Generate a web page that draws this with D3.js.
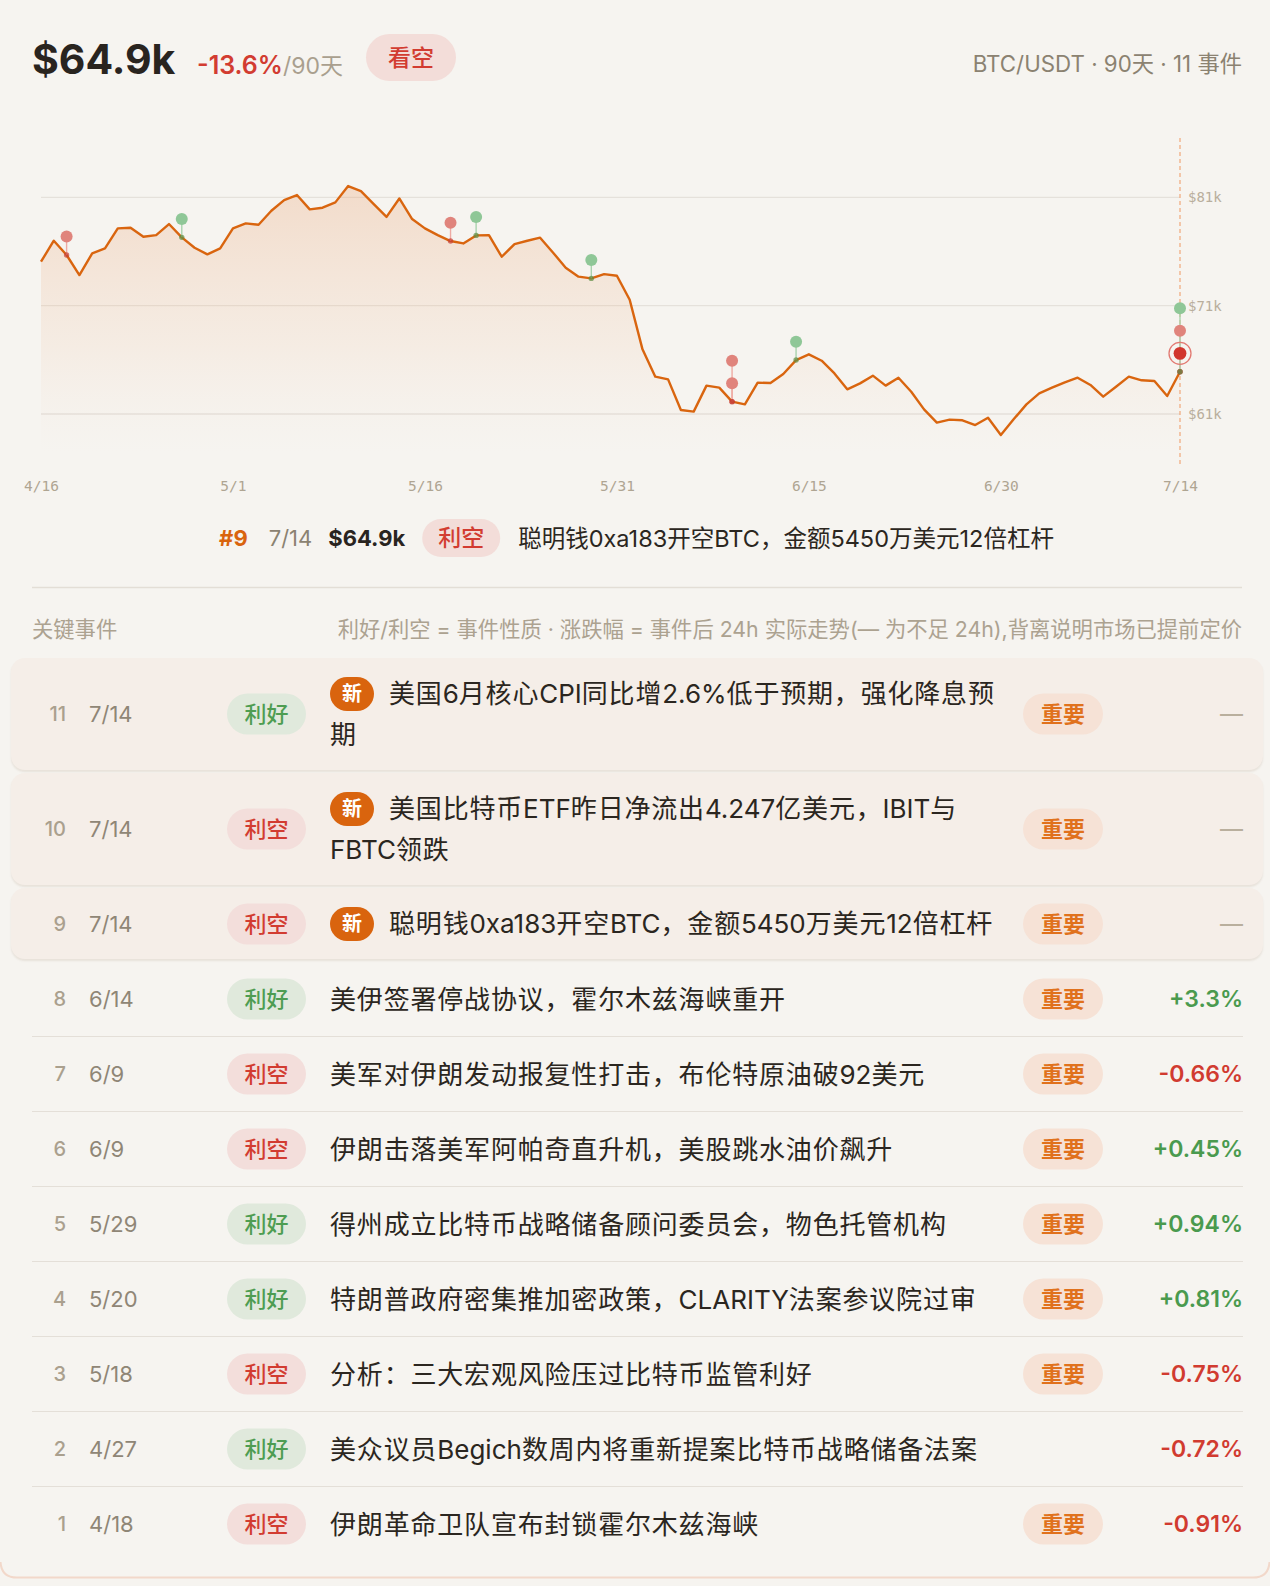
<!DOCTYPE html>
<html><head><meta charset="utf-8">
<script src="https://cdn.jsdelivr.net/npm/d3@7"></script>
<style>
html,body{margin:0;padding:0;background:#f6f4f0;}
body{width:1270px;height:1586px;position:relative;overflow:hidden;font-family:Inter,"Noto Sans CJK SC",sans-serif;}
#top{position:absolute;left:0;top:0;}
#table{position:absolute;left:0;top:658px;width:1270px;}
.row{position:relative;}
.card{margin:0 7px 3px 11px;background:#f5eee8;border-radius:14px;padding:15px 0;box-shadow:0 2px 2px rgba(140,110,80,0.13);}
.plain{margin:0 27px 0 32px;padding:17px 0 16px;border-bottom:1px solid #e4dfd8;}
.plain.first{margin-top:3px;}
.plain.last{border-bottom:none;}
.cell{position:absolute;top:50%;transform:translateY(-50%);white-space:nowrap;}
.idx{font-size:20px;font-weight:500;color:#aaa08e;text-align:right;}
.date{font-size:22px;color:#8f8676;}
.pill{width:79px;height:41px;border-radius:20.5px;line-height:41px;text-align:center;font-size:22px;font-weight:500;}
.pill.good{background:#e0e9dc;color:#4e9d52;}
.pill.bad{background:#f3dedb;color:#d23c31;}
.imp{width:80px;height:41px;border-radius:20.5px;line-height:41px;text-align:center;font-size:22px;font-weight:600;background:#f6e2d6;color:#e0711c;}
.chg{width:150px;text-align:right;font-size:23px;font-weight:600;}
.chg.up{color:#4a9a4e;}
.chg.down{color:#d13b30;}
.chg.none{color:#b9af9d;font-weight:400;}
.title{font-size:26px;line-height:41px;color:#2b2620;width:680px;min-height:41px;}
.title .cjk{letter-spacing:0.8px;}
.new{display:inline-block;vertical-align:top;margin-top:3.5px;width:44px;height:34px;border-radius:17px;background:#d9640e;color:#fff;font-size:20px;font-weight:700;line-height:34px;text-align:center;margin-right:15px;letter-spacing:0;}
</style></head><body>
<svg id="top" width="1270" height="660"></svg>
<div id="table"></div>
<svg id="bottom" width="1270" height="1586" style="position:absolute;left:0;top:0;pointer-events:none"></svg>
<script>
// ---------- data ----------
const startDate = "2025-04-16";
const prices = [75.06,77.0,75.68,73.83,75.83,76.29,78.14,78.2,77.37,77.52,
  78.54,77.31,76.35,75.74,76.29,78.14,78.6,78.48,79.77,80.75,
  81.22,79.89,80.05,80.54,82.05,81.58,80.38,79.2,80.9,79.0,
  78.14,77.52,76.97,76.75,77.49,77.52,75.52,76.69,77.0,77.28,
  75.92,74.51,73.68,73.52,73.92,73.77,71.55,66.97,64.45,64.2,
  61.37,61.22,63.62,63.43,62.14,61.89,63.89,63.86,64.69,65.98,
  66.51,65.92,64.75,63.28,63.83,64.54,63.62,64.35,63.06,61.43,
  60.2,60.48,60.42,59.98,60.66,59.06,60.51,61.89,62.91,63.43,
  63.92,64.35,63.68,62.6,63.52,64.45,64.11,64.05,62.66,64.9];
const xTickLabels = ["4/16","5/1","5/16","5/31","6/15","6/30","7/14"];
const yTicks = [61,71,81];

const eventIds    = [1,2,3,4,5,6,7,8,9,10,11];
const eventDates  = ["4/18","4/27","5/18","5/20","5/29","6/9","6/9","6/14","7/14","7/14","7/14"];
const eventTypes  = ["利空","利好","利空","利好","利好","利空","利空","利好","利空","利空","利好"];
const eventTitles = [
  "伊朗革命卫队宣布封锁霍尔木兹海峡",
  "美众议员Begich数周内将重新提案比特币战略储备法案",
  "分析：三大宏观风险压过比特币监管利好",
  "特朗普政府密集推加密政策，CLARITY法案参议院过审",
  "得州成立比特币战略储备顾问委员会，物色托管机构",
  "伊朗击落美军阿帕奇直升机，美股跳水油价飙升",
  "美军对伊朗发动报复性打击，布伦特原油破92美元",
  "美伊签署停战协议，霍尔木兹海峡重开",
  "聪明钱0xa183开空BTC，金额5450万美元12倍杠杆",
  "美国比特币ETF昨日净流出4.247亿美元，IBIT与FBTC领跌",
  "美国6月核心CPI同比增2.6%低于预期，强化降息预期"];
const eventImportant = [true,false,true,true,true,true,true,true,true,true,true];
const eventChange = [-0.91,-0.72,-0.75,0.81,0.94,0.45,-0.66,3.3,null,null,null];
const eventChangeText = ["-0.91%","-0.72%","-0.75%","+0.81%","+0.94%","+0.45%","-0.66%","+3.3%","—","—","—"];
const eventNew = [false,false,false,false,false,false,false,false,true,true,true];
const selectedId = 9;

const headerPrice = "$64.9k", headerChange = "-13.6%", headerPeriod = "/90天", headerView = "看空";
const headerMeta = "BTC/USDT · 90天 · 11 事件";
const tableTitle = "关键事件";
const tableNote = "利好/利空 = 事件性质 · 涨跌幅 = 事件后 24h 实际走势(— 为不足 24h),背离说明市场已提前定价";

// ---------- helpers ----------
const FONT = 'Inter,"Noto Sans CJK SC",sans-serif';
const YEAR = 2025;
const parseMD = s => { const [m,d] = s.split("/").map(Number); return new Date(Date.UTC(YEAR, m-1, d)); };
const start = new Date(startDate + "T00:00:00Z");
const dates = prices.map((_, i) => d3.utcDay.offset(start, i));
const series = prices.map((v, i) => ({date: dates[i], v}));
const events = eventIds.map((id, i) => ({id, date: parseMD(eventDates[i]), type: eventTypes[i], title: eventTitles[i],
  imp: eventImportant[i], chg: eventChange[i], chgText: eventChangeText[i], isNew: eventNew[i]}));

const svg = d3.select("#top").attr("font-family", FONT);

// ---------- header ----------
svg.append("text").attr("x", 32).attr("y", 74).attr("font-size", 41).attr("font-weight", 700)
  .attr("fill", "#29241f").text(headerPrice);
const ch = svg.append("text").attr("x", 197).attr("y", 74);
ch.append("tspan").attr("font-size", 25).attr("font-weight", 600).attr("fill", "#d23c31").text(headerChange);
ch.append("tspan").attr("font-size", 23).attr("fill", "#a99f8e").text(headerPeriod);
svg.append("rect").attr("x", 366).attr("y", 34).attr("width", 90).attr("height", 47).attr("rx", 23.5).attr("fill", "#f3ddd9");
svg.append("text").attr("x", 411).attr("y", 58).attr("text-anchor", "middle").attr("dominant-baseline", "central")
  .attr("font-size", 23).attr("font-weight", 500).attr("fill", "#d23c31").text(headerView);
svg.append("text").attr("x", 1242).attr("y", 72).attr("text-anchor", "end").attr("font-size", 22.3)
  .attr("fill", "#8b8271").text(headerMeta);

// ---------- chart ----------
const x = d3.scaleUtc().domain([dates[0], dates[dates.length-1]]).range([41, 1180]);
const y = d3.scaleLinear().domain([61, 81]).range([414, 197.4]);
const yBase = y(57.4);

const defs = svg.append("defs");
const grad = defs.append("linearGradient").attr("id", "areaGrad").attr("gradientUnits", "userSpaceOnUse")
  .attr("x1", 0).attr("x2", 0).attr("y1", 185).attr("y2", yBase);
grad.append("stop").attr("offset", 0).attr("stop-color", "#e8945c").attr("stop-opacity", 0.26);
grad.append("stop").attr("offset", 0.6).attr("stop-color", "#eeb58c").attr("stop-opacity", 0.13);
grad.append("stop").attr("offset", 1).attr("stop-color", "#f3d2bb").attr("stop-opacity", 0.0);

svg.append("g").selectAll("line").data(yTicks).join("line")
  .attr("x1", x.range()[0]).attr("x2", x.range()[1]).attr("y1", d => y(d)).attr("y2", d => y(d))
  .attr("stroke", "#e5e1db").attr("stroke-width", 1.3);

svg.append("path").datum(series)
  .attr("d", d3.area().x(d => x(d.date)).y0(yBase).y1(d => y(d.v)))
  .attr("fill", "url(#areaGrad)");
svg.append("path").datum(series)
  .attr("d", d3.line().x(d => x(d.date)).y(d => y(d.v)))
  .attr("fill", "none").attr("stroke", "#d9650f").attr("stroke-width", 2.4).attr("stroke-linejoin", "round");

// current-day dashed line
svg.append("line").attr("x1", x(dates[dates.length-1])).attr("x2", x(dates[dates.length-1]))
  .attr("y1", 138).attr("y2", 465).attr("stroke", "#f0a77a").attr("stroke-width", 1.2).attr("stroke-dasharray", "4,3");

// axes
const xAxis = svg.append("g").attr("transform", "translate(0,486)")
  .call(d3.axisBottom(x).tickValues(xTickLabels.map(parseMD)).tickFormat(d3.utcFormat("%-m/%-d")).tickSize(0).tickPadding(0));
xAxis.select(".domain").remove();
xAxis.selectAll("text").attr("font-family", "'DejaVu Sans Mono',monospace").attr("font-size", 14.5)
  .attr("fill", "#afa592").attr("y", 0).attr("dy", "0.35em");
const yAxis = svg.append("g").attr("transform", `translate(${x.range()[1]},0)`)
  .call(d3.axisRight(y).tickValues(yTicks).tickFormat(d => "$" + d + "k").tickSize(0).tickPadding(8));
yAxis.select(".domain").remove();
yAxis.selectAll("text").attr("font-family", "'DejaVu Sans Mono',monospace").attr("font-size", 14).attr("fill", "#b9ae9c");

// events on chart
const priceAt = d => series.find(s => +s.date === +d).v;
const groups = d3.group(events, e => +e.date);
const marks = [];
groups.forEach(list => {
  list.sort((a, b) => a.id - b.id).forEach((e, k) => {
    const yl = y(priceAt(e.date));
    marks.push({e, k, xl: x(e.date), yl, by: yl - 18.4 - 22.6 * k});
  });
});
const good = e => e.type === "利好";
const gm = svg.append("g");
gm.selectAll("line.conn").data(marks).join("line").attr("class", "conn")
  .attr("x1", d => d.xl).attr("x2", d => d.xl).attr("y1", d => d.yl).attr("y2", d => d.by)
  .attr("stroke", d => good(d.e) ? "#a9d3ad" : "#eeaaa3").attr("stroke-width", 1.4);
gm.selectAll("circle.dot").data(marks).join("circle").attr("class", "dot")
  .attr("cx", d => d.xl).attr("cy", d => d.yl).attr("r", 2.7)
  .attr("fill", d => good(d.e) ? "#5e8d43" : "#c63e35").attr("fill-opacity", 0.7);
gm.selectAll("circle.bub").data(marks).join("circle").attr("class", "bub")
  .attr("cx", d => d.xl).attr("cy", d => d.by).attr("r", d => d.e.id === selectedId ? 6.4 : 6)
  .attr("fill", d => d.e.id === selectedId ? "#d1362d" : (good(d.e) ? "#8fc797" : "#e0847c"));
gm.selectAll("circle.ring").data(marks.filter(d => d.e.id === selectedId)).join("circle").attr("class", "ring")
  .attr("cx", d => d.xl).attr("cy", d => d.by).attr("r", 11)
  .attr("fill", "none").attr("stroke", "#e27a72").attr("stroke-width", 1.3);

// ---------- selected event info row ----------
const sel = events.find(e => e.id === selectedId);
const info = svg.append("g");
let cx = 0;
const addText = (t, opts) => {
  const el = info.append("text").attr("x", cx).attr("y", 538).attr("dominant-baseline", "central")
    .attr("font-size", opts.fs).attr("fill", opts.fill).attr("font-weight", opts.w || 400).text(t);
  cx += el.node().getComputedTextLength() + (opts.gap || 17);
};
addText("#" + sel.id, {fill: "#d9640e", w: 700, gap: 21, fs: 22});
addText(d3.utcFormat("%-m/%-d")(sel.date), {fill: "#8b8271", fs: 22, gap: 16});
addText(headerPrice, {fill: "#29241f", w: 700, gap: 17, fs: 22});
info.append("rect").attr("x", cx).attr("y", 519).attr("width", 78).attr("height", 38).attr("rx", 19)
  .attr("fill", good(sel) ? "#e0e9dc" : "#f3ddd9");
info.append("text").attr("x", cx + 39).attr("y", 538).attr("text-anchor", "middle").attr("dominant-baseline", "central")
  .attr("font-size", 23).attr("font-weight", 500).attr("fill", good(sel) ? "#4e9d52" : "#d23c31").text(sel.type);
cx += 78 + 18;
addText(sel.title, {fill: "#2b2620", gap: 0, fs: 23.5});
info.attr("transform", `translate(${645 - cx / 2},0)`);

// separator & table header
svg.append("line").attr("x1", 32).attr("x2", 1242).attr("y1", 587.5).attr("y2", 587.5)
  .attr("stroke", "#e3ded6").attr("stroke-width", 1.5);
svg.append("text").attr("x", 32).attr("y", 629).attr("dominant-baseline", "central").attr("font-size", 21.3)
  .attr("fill", "#aca290").text(tableTitle);
svg.append("text").attr("x", 1242).attr("y", 629).attr("dominant-baseline", "central").attr("text-anchor", "end")
  .attr("font-size", 21.3).attr("fill", "#aca290").text(tableNote);

// ---------- table ----------
// tokens: Latin runs stay whole, CJK split per character (each token sits on one line)
const tokens = s => (s.match(/[\x00-\x7F]+|[^\x00-\x7F]/g) || []);
const rowsData = events.slice().sort((a, b) => b.id - a.id);
const firstPlain = rowsData.findIndex(e => !e.isNew);
const rows = d3.select("#table").selectAll("div.row").data(rowsData).join("div")
  .attr("class", (d, i) => "row " + (d.isNew ? "card" : "plain") + (i === firstPlain ? " first" : "") + (i === rowsData.length - 1 ? " last" : ""));
rows.each(function(d) {
  const r = d3.select(this);
  const off = d.isNew ? 11 : 32;
  r.append("div").attr("class", "cell idx").style("left", "0px").style("width", (66 - off) + "px").text(d.id);
  r.append("div").attr("class", "cell date").style("left", (89 - off) + "px").text(d3.utcFormat("%-m/%-d")(d.date));
  r.append("div").attr("class", "cell pill " + (good(d) ? "good" : "bad")).style("left", (227 - off) + "px").text(d.type);
  const t = r.append("div").attr("class", "title").style("margin-left", (330 - off) + "px");
  if (d.isNew) t.append("span").attr("class", "new").text("新");
  t.selectAll("span.tk").data(tokens(d.title)).join("span")
    .attr("class", s => "tk " + (/^[\x00-\x7F]/.test(s) ? "lat" : "cjk")).text(s => s);
  if (d.imp) r.append("div").attr("class", "cell imp").style("left", (1023 - off) + "px").text("重要");
  r.append("div").attr("class", "cell chg " + (d.chg == null ? "none" : (d.chg >= 0 ? "up" : "down")))
    .style("left", (1243 - off - 150) + "px").text(d.chgText);
});

// bottom container edge
d3.select("#bottom").append("path")
  .attr("d", "M0.5,1562 Q1.5,1577.5 17,1577.5 L1253,1577.5 Q1268.5,1577.5 1269.5,1562")
  .attr("fill", "none").attr("stroke", "#f2d8ca").attr("stroke-width", 2);
</script>
</body></html>
